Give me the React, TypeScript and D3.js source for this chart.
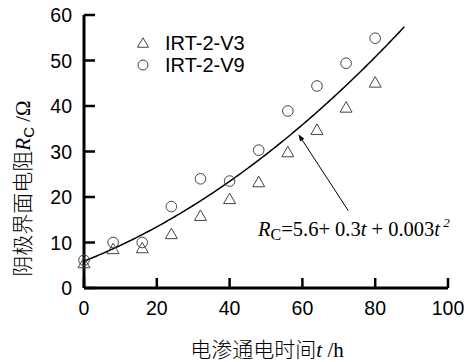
import React, { useEffect } from "react";
import * as d3 from "d3";

const tValues = [0, 8, 16, 24, 32, 40, 48, 56, 64, 72, 80];
const v3Values = [5.6, 8.7, 8.9, 12.0, 16.0, 19.7, 23.4, 30.0, 34.9, 39.8, 45.3];
const v9Values = [6.1, 10.0, 10.0, 17.9, 24.0, 23.5, 30.3, 38.9, 44.4, 49.4, 54.9];
const xTicks = [0, 20, 40, 60, 80, 100];
const yTicks = [0, 10, 20, 30, 40, 50, 60];
const fitCoefficients = [5.9, 0.316, 0.00306];
const fitRange = [0, 88];
const arrowFrom = [72.6, 17.0];
const arrowTo = [58.9, 33.8];
const seriesNames = ["IRT-2-V3", "IRT-2-V9"];

const W = 464;
const H = 362;

const x = d3.scaleLinear().domain([0, 100]).range([84, 448]);
const y = d3.scaleLinear().domain([0, 60]).range([288, 15]);

function triPath(cx: number, cy: number, w: number, h: number) {
  return `M${cx},${cy - h / 2}L${cx + w / 2},${cy + h / 2}L${cx - w / 2},${cy + h / 2}Z`;
}

export default function App() {
  useEffect(() => {
    document.body.style.margin = "0";
  }, []);

  const fitT = d3.range(fitRange[0], fitRange[1] + 0.001, 0.5);
  const fitLine = d3
    .line<number>()
    .x((t) => x(t))
    .y((t) => y(fitCoefficients[0] + fitCoefficients[1] * t + fitCoefficients[2] * t * t));

  const ax1 = x(arrowFrom[0]);
  const ay1 = y(arrowFrom[1]);
  const ax2 = x(arrowTo[0]);
  const ay2 = y(arrowTo[1]);
  const ang = Math.atan2(ay2 - ay1, ax2 - ax1);
  const hl = 7;
  const hw = 2.5;
  const bx = ax2 - hl * Math.cos(ang);
  const by = ay2 - hl * Math.sin(ang);
  const head = `M${ax2},${ay2}L${bx + hw * Math.sin(ang)},${by - hw * Math.cos(ang)}L${bx - hw * Math.sin(ang)},${by + hw * Math.cos(ang)}Z`;

  const sans = "'Liberation Sans', Arial, sans-serif";
  const serif = "'Liberation Serif', 'Times New Roman', serif";
  const cjk = "'Noto Sans CJK SC', sans-serif";
  const mark = "#444";

  return (
    <svg width={W} height={H} style={{ position: "absolute", left: 0, top: 0, background: "#fff" }}>
      {/* axes */}
      <line x1={x(0)} x2={x(100)} y1={y(0)} y2={y(0)} stroke="#000" strokeWidth={3} />
      <line x1={x(0)} x2={x(0)} y1={y(0)} y2={y(60)} stroke="#000" strokeWidth={3} />
      {xTicks.map((t) => (
        <g key={"xt" + t}>
          <line x1={x(t)} x2={x(t)} y1={y(0)} y2={y(0) - 10} stroke="#000" strokeWidth={2.5} />
          <text x={x(t)} y={314.5} textAnchor="middle" fontFamily={sans} fontSize={19.5}>
            {t}
          </text>
        </g>
      ))}
      {yTicks.map((v) => (
        <g key={"yt" + v}>
          <line x1={x(0)} x2={x(0) + 11} y1={y(v)} y2={y(v)} stroke="#000" strokeWidth={2.5} />
          <text x={72} y={y(v) + 7} textAnchor="end" fontFamily={sans} fontSize={19.5}>
            {v}
          </text>
        </g>
      ))}

      {/* fit curve */}
      <path d={fitLine(fitT) || ""} fill="none" stroke="#000" strokeWidth={1.5} />

      {/* data */}
      {tValues.map((t, i) => (
        <path key={"v3" + t} d={triPath(x(t), y(v3Values[i]), 12, 10.5)} fill="none" stroke={mark} strokeWidth={1} />
      ))}
      {tValues.map((t, i) => (
        <circle key={"v9" + t} cx={x(t)} cy={y(v9Values[i])} r={5.3} fill="none" stroke={mark} strokeWidth={1} />
      ))}

      {/* arrow */}
      <line x1={ax1} y1={ay1} x2={bx} y2={by} stroke="#000" strokeWidth={1} />
      <path d={head} fill="#000" />

      {/* equation */}
      <text x={258} y={236} fontFamily={serif} fontSize={20.5}>
        <tspan fontStyle="italic">R</tspan>
        <tspan fontSize={16} dy={4}>C</tspan>
        <tspan dy={-4}>=5.6+ 0.3</tspan>
        <tspan fontStyle="italic">t</tspan>
        <tspan> + 0.003</tspan>
        <tspan fontStyle="italic">t</tspan>
        <tspan fontSize={13} dy={-9} fontStyle="italic">{" 2"}</tspan>
      </text>

      {/* legend */}
      <path d={triPath(143, 42.5, 11, 9.5)} fill="none" stroke={mark} strokeWidth={1} />
      <text x={165} y={50} fontFamily={sans} fontSize={20}>
        {seriesNames[0]}
      </text>
      <circle cx={143} cy={65} r={5} fill="none" stroke={mark} strokeWidth={1} />
      <text x={165} y={72} fontFamily={sans} fontSize={20}>
        {seriesNames[1]}
      </text>

      {/* axis titles */}
      <text x={267} y={357} textAnchor="middle" fontFamily={serif} fontSize={21}>
        <tspan fontFamily={cjk} fontWeight={300}>电渗通电时间</tspan>
        <tspan fontStyle="italic">t</tspan>
        <tspan> /h</tspan>
      </text>
      <text
        transform={`translate(30,${(287 + 90) / 2}) rotate(-90)`}
        textAnchor="middle"
        fontFamily={serif}
        fontSize={21}
      >
        <tspan fontFamily={cjk} fontWeight={300}>阴极界面电阻</tspan>
        <tspan fontStyle="italic">R</tspan>
        <tspan fontSize={15} dy={4} fontFamily={sans}>C</tspan>
        <tspan dy={-4}> /Ω</tspan>
      </text>
    </svg>
  );
}
